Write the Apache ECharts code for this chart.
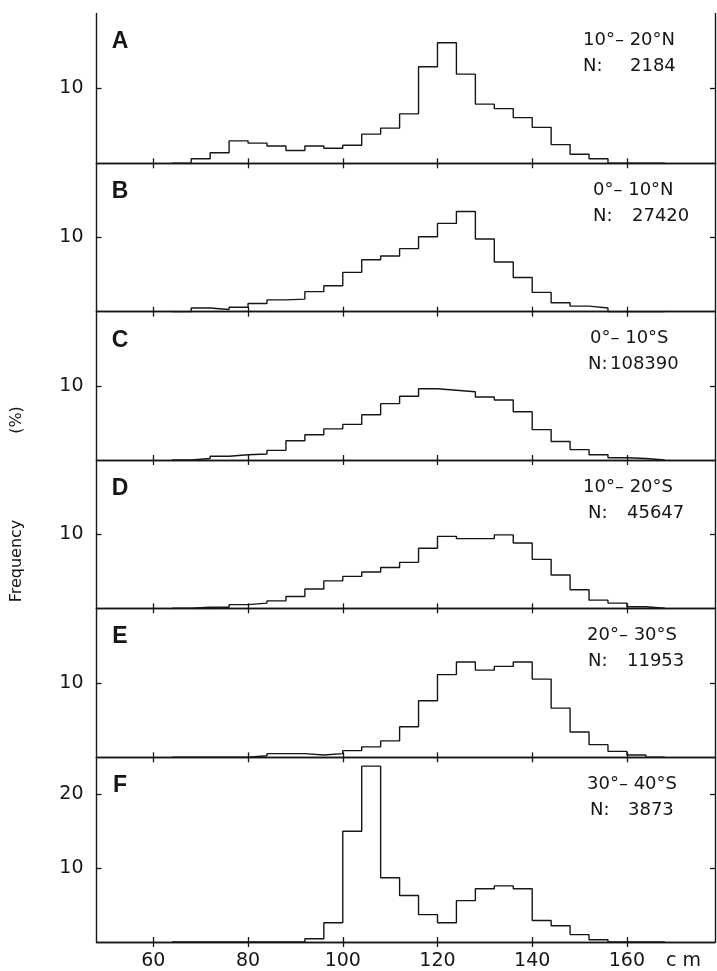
<!DOCTYPE html>
<html><head><meta charset="utf-8">
<script src="https://cdn.jsdelivr.net/npm/echarts@6/dist/echarts.min.js"></script>
<style>html,body{margin:0;padding:0;background:#fff}#c{width:717px;height:971px}</style>
</head><body><div id="c"></div>
<script>
// ---- data ----
const binLeft = [64,68,72,76,80,84,88,92,96,100,104,108,112,116,120,124,128,132,136,140,144,148,152,156,160,164];
const binEnd = 168;
const panelLetters = ['A','B','C','D','E','F'];
const latRanges = ['10°– 20°N','0°– 10°N','0°– 10°S','10°– 20°S','20°– 30°S','30°– 40°S'];
const sampleSizes = ['2184','27420','108390','45647','11953','3873'];
const freqA = [0,0.6,1.4,3.0,2.7,2.3,1.7,2.3,2.0,2.4,3.9,4.7,6.6,12.9,16.1,11.9,7.9,7.3,6.1,4.8,2.5,1.2,0.6,0,0,0];
const freqB = [0,0.5,0.3,0.6,1.1,1.6,1.7,2.7,3.5,5.3,7.0,7.5,8.5,10.1,11.9,13.5,9.8,6.7,4.6,2.6,1.2,0.75,0.5,0,0,0];
const freqC = [0,0.2,0.5,0.7,0.8,1.3,2.6,3.4,4.2,4.8,6.1,7.6,8.6,9.6,9.4,9.2,8.5,8.1,6.5,4.1,2.5,1.4,0.7,0.3,0.2,0];
const freqD = [0,0.15,0.15,0.5,0.7,1.0,1.6,2.6,3.7,4.3,4.9,5.5,6.2,8.1,9.7,9.4,9.4,9.9,8.8,6.6,4.5,2.5,1.1,0.7,0.2,0];
const freqE = [0,0,0,0,0.2,0.5,0.5,0.3,0.5,0.9,1.4,2.2,4.1,7.6,11.1,12.8,11.7,12.2,12.8,10.5,6.6,3.4,1.7,0.8,0.3,0];
const freqF = [0,0,0,0,0,0,0,0.45,2.6,15.0,23.8,8.7,6.3,3.7,2.6,5.6,7.2,7.6,7.2,2.9,2.2,1.0,0.3,0,0,0];
const xTicks = [60,80,100,120,140,160];
const yTicksAE = [10];
const yTicksF = [10,20];
const yMaxAE = 20, yMaxF = 25;

// ---- layout ----
const panelFreqs = [freqA,freqB,freqC,freqD,freqE,freqF];
const tops = [13.5,163.3,311.7,460,608.3,757.3];
const heights = [149.8,148.4,148.3,148.3,149,185.4];
const gridLeft = 96.5, gridWidth = 618.5;
const xMin = 48, xMax = 178.6;
const line1X = [583,593,590,583,587,587];
const nX = [583,593,588,588,588,590];
const numX = [630,632,610,627,627,628];
const ink = '#161616';
const FONT = 'DejaVu Sans';

const option = {animation:false, backgroundColor:'#fff', grid:[], xAxis:[], yAxis:[], series:[], graphic:[]};
const lineStyleAxis = {show:true, lineStyle:{color:ink, width:1.4}};

panelFreqs.forEach((vals,i)=>{
  const isF = i===5;
  option.grid.push({left:gridLeft, width:gridWidth, top:tops[i], height:heights[i]});
  const xBase = {type:'value', gridIndex:i, min:xMin, max:xMax, splitLine:{show:false}, axisLine:lineStyleAxis,
    axisTick:{show:true, inside:true, length:5, customValues:xTicks, lineStyle:{color:ink, width:1.3}}};
  option.xAxis.push(Object.assign({}, xBase, {position:'bottom',
    axisLabel:{show:isF, customValues:xTicks, margin:10, color:ink, fontSize:19, fontFamily:FONT}}));
  option.xAxis.push(Object.assign({}, xBase, {position:'top', axisLabel:{show:false}}));
  const yt = isF ? yTicksF : yTicksAE;
  const yBase = {type:'value', gridIndex:i, min:0, max:isF?yMaxF:yMaxAE, splitLine:{show:false}, axisLine:lineStyleAxis,
    axisTick:{show:true, inside:true, length:5, customValues:yt, lineStyle:{color:ink, width:1.3}}};
  option.yAxis.push(Object.assign({}, yBase, {position:'left',
    axisLabel:{show:true, customValues:yt, margin:13, color:ink, fontSize:19, fontFamily:FONT}}));
  option.yAxis.push(Object.assign({}, yBase, {position:'right', axisLabel:{show:false}}));
  const data = binLeft.map((x,k)=>[x, vals[k]]).concat([[binEnd, 0]]);
  option.series.push({type:'line', xAxisIndex:2*i, yAxisIndex:2*i, step:'end', data:data, showSymbol:false,
    lineStyle:{color:ink, width:1.4}, silent:true});
  // texts
  option.graphic.push({type:'text', x:120, y:tops[i]+28.5, style:{text:panelLetters[i], fontSize:23, fontWeight:'bold', fontFamily:'Liberation Sans', fill:ink, align:'center', verticalAlign:'middle'}});
  option.graphic.push({type:'text', x:line1X[i], y:tops[i]+27, style:{text:latRanges[i], fontSize:18, fontFamily:FONT, fill:ink, verticalAlign:'middle'}});
  option.graphic.push({type:'text', x:nX[i], y:tops[i]+53, style:{text:'N:', fontSize:18, fontFamily:FONT, fill:ink, verticalAlign:'middle'}});
  option.graphic.push({type:'text', x:numX[i], y:tops[i]+53, style:{text:sampleSizes[i], fontSize:18, fontFamily:FONT, fill:ink, verticalAlign:'middle'}});
});
option.graphic.push({type:'text', x:17, y:561, rotation:Math.PI/2, style:{text:'Frequency', fontSize:16, fontFamily:FONT, fill:ink, align:'center', verticalAlign:'middle'}});
option.graphic.push({type:'text', x:17, y:420, rotation:Math.PI/2, style:{text:'(%)', fontSize:16, fontFamily:FONT, fill:ink, align:'center', verticalAlign:'middle'}});
option.graphic.push({type:'text', x:666, y:961, style:{text:'c m', fontSize:19, fontFamily:FONT, fill:ink, verticalAlign:'middle'}});

const chart = echarts.init(document.getElementById('c'), null, {renderer:'canvas'});
chart.setOption(option);
</script></body></html>
